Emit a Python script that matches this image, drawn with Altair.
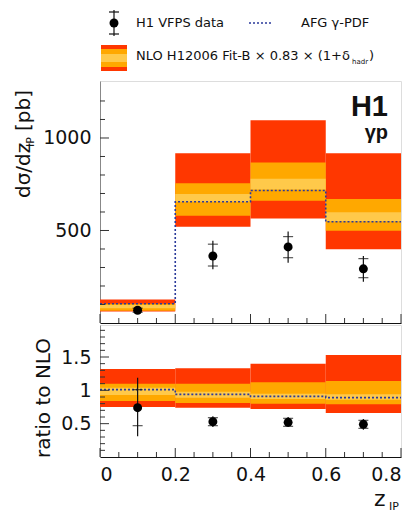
import altair as alt
import pandas as pd

# ---------------- data ----------------
bin_lo = [0.0, 0.2, 0.4, 0.6]
bin_hi = [0.2, 0.4, 0.6, 0.8]
z_center = [0.1, 0.3, 0.5, 0.7]

# upper panel: cross section [pb]
xs_data = [69, 362, 411, 293]
xs_stat_lo = [58, 308, 353, 245]
xs_stat_hi = [80, 426, 467, 348]
xs_tot_lo = [52, 290, 326, 223]
xs_tot_hi = [86, 445, 494, 362]

nlo_red_lo = [62, 520, 565, 399]
nlo_red_hi = [127, 918, 1096, 918]
nlo_orange_lo = [66, 580, 661, 498]
nlo_orange_hi = [104, 755, 868, 670]
nlo_yellow_lo = [80, 655, 721, 550]
nlo_yellow_hi = [97, 697, 779, 598]
afg_xs = [104, 655, 716, 547]

# lower panel: ratio to NLO
ratio_data = [0.74, 0.53, 0.52, 0.49]
ratio_stat_lo = [0.47, 0.47, 0.46, 0.43]
ratio_stat_hi = [1.01, 0.59, 0.58, 0.55]
ratio_tot_lo = [0.31, 0.45, 0.45, 0.41]
ratio_tot_hi = [1.19, 0.61, 0.60, 0.57]
r_red_lo = [0.75, 0.74, 0.72, 0.66]
r_red_hi = [1.32, 1.33, 1.40, 1.53]
r_orange_lo = [0.84, 0.81, 0.80, 0.79]
r_orange_hi = [1.10, 1.10, 1.12, 1.14]
r_yellow_lo = [0.93, 0.89, 0.87, 0.86]
r_yellow_hi = [1.04, 0.98, 0.95, 0.94]
r_afg = [1.01, 0.94, 0.91, 0.89]

# ticks
x_major = [0.0, 0.2, 0.4, 0.6, 0.8]
x_minor = [0.05, 0.1, 0.15, 0.25, 0.3, 0.35, 0.45, 0.5, 0.55, 0.65, 0.7, 0.75]
up_y_major = [500, 1000]
up_y_minor = [100, 200, 300, 400, 600, 700, 800, 900, 1100, 1200]
lo_y_major = [0.5, 1.0, 1.5]
lo_y_minor = [0.1, 0.2, 0.3, 0.4, 0.6, 0.7, 0.8, 0.9, 1.1, 1.2, 1.3, 1.4, 1.6, 1.7, 1.8, 1.9]

# ---------------- style ----------------
RED = "#ff3700"
ORANGE = "#ffa800"
YELLOW = "#ffc94a"
AFG = "#2b3a9a"
FONT = "DejaVu Sans"
W = 301
HU = 242
HL = 132

XS = alt.Scale(domain=[0, 0.8], nice=False, zero=False)
YU = alt.Scale(domain=[0, 1308], nice=False, zero=False)
YL = alt.Scale(domain=[0, 1.98], nice=False, zero=False)

ax_x_up = alt.Axis(labels=False, ticks=False, grid=False, title=None, domainColor="#111", domainWidth=1.2)
ax_y_up = alt.Axis(values=up_y_major, ticks=False, grid=False, title=None, labelFont=FONT,
                   labelFontSize=19, labelColor="#111", labelPadding=9, domainColor="#888",
                   labelExpr="format(datum.value, 'd')")
ax_x_lo = alt.Axis(values=x_major, ticks=False, grid=False, title=None, labelFont=FONT,
                   labelFontSize=19, labelColor="#111", labelPadding=8, domainColor="#111",
                   domainWidth=1.2, labelExpr="format(datum.value, '~g')")
ax_y_lo = alt.Axis(values=lo_y_major, ticks=False, grid=False, title=None, labelFont=FONT,
                   labelFontSize=19, labelColor="#111", labelPadding=9, domainColor="#888",
                   labelExpr="format(datum.value, '~g')")

bins = pd.DataFrame({
    "lo": bin_lo, "hi": bin_hi, "zc": z_center,
    "red_lo": nlo_red_lo, "red_hi": nlo_red_hi,
    "or_lo": nlo_orange_lo, "or_hi": nlo_orange_hi,
    "ye_lo": nlo_yellow_lo, "ye_hi": nlo_yellow_hi,
    "d": xs_data, "s_lo": xs_stat_lo, "s_hi": xs_stat_hi,
    "t_lo": xs_tot_lo, "t_hi": xs_tot_hi,
})
rbins = pd.DataFrame({
    "lo": bin_lo, "hi": bin_hi, "zc": z_center,
    "red_lo": r_red_lo, "red_hi": r_red_hi,
    "or_lo": r_orange_lo, "or_hi": r_orange_hi,
    "ye_lo": r_yellow_lo, "ye_hi": r_yellow_hi,
    "d": ratio_data, "s_lo": ratio_stat_lo, "s_hi": ratio_stat_hi,
    "t_lo": ratio_tot_lo, "t_hi": ratio_tot_hi,
})
afg_up = pd.DataFrame({"x": bin_lo + [bin_hi[-1]], "y": afg_xs + [afg_xs[-1]]})
afg_lo = pd.DataFrame({"x": bin_lo + [bin_hi[-1]], "y": r_afg + [r_afg[-1]]})
one = pd.DataFrame({"a": [0]})


def panel(df, afg_df, ys, ax_x, ax_y, y_major, y_minor, h):
    X = lambda f: alt.X(f, type="quantitative", scale=XS, axis=ax_x)
    Y = lambda f: alt.Y(f, type="quantitative", scale=ys, axis=ax_y)
    base = alt.Chart(df)
    layers = []
    for lo, hi, col in [("red_lo", "red_hi", RED), ("or_lo", "or_hi", ORANGE), ("ye_lo", "ye_hi", YELLOW)]:
        layers.append(base.mark_rect(color=col).encode(x=X("lo"), x2="hi", y=Y(lo), y2=hi))
    layers.append(alt.Chart(afg_df).mark_line(interpolate="step-after", color=AFG, strokeDash=[2, 2],
                                              strokeWidth=1.6).encode(x=X("x"), y=Y("y")))
    layers.append(base.mark_rule(color="#111", strokeWidth=1.2).encode(x=X("zc"), y=Y("t_lo"), y2="t_hi"))
    layers.append(base.mark_tick(orient="horizontal", size=10, thickness=1.2, color="#111")
                  .encode(x=X("zc"), y=Y("s_lo")))
    layers.append(base.mark_tick(orient="horizontal", size=10, thickness=1.2, color="#111")
                  .encode(x=X("zc"), y=Y("s_hi")))
    layers.append(base.mark_point(filled=True, size=80, color="#000", opacity=1).encode(x=X("zc"), y=Y("d")))
    # inward ticks
    layers.append(alt.Chart(pd.DataFrame({"v": x_major})).mark_rule(color="#333")
                  .encode(x=X("v"), y=alt.value(h), y2=alt.value(h - 9)))
    layers.append(alt.Chart(pd.DataFrame({"v": x_minor})).mark_rule(color="#333")
                  .encode(x=X("v"), y=alt.value(h), y2=alt.value(h - 5)))
    layers.append(alt.Chart(pd.DataFrame({"v": y_major})).mark_rule(color="#333")
                  .encode(y=Y("v"), x=alt.value(0), x2=alt.value(9)))
    layers.append(alt.Chart(pd.DataFrame({"v": y_minor})).mark_rule(color="#333")
                  .encode(y=Y("v"), x=alt.value(0), x2=alt.value(5)))
    return layers


def txt(s, x, y, size=13, align="left", baseline="middle", angle=0, weight="normal", font=FONT, color="#111"):
    kw = dict(align=align, baseline=baseline, fontSize=size, font=font, fontWeight=weight, color=color)
    if angle:
        kw["angle"] = angle
    return alt.Chart(one).mark_text(**kw).encode(x=alt.value(x), y=alt.value(y), text=alt.value(s))


up_layers = panel(bins, afg_up, YU, ax_x_up, ax_y_up, up_y_major, up_y_minor, HU)

# H1 label
up_layers.append(txt("H1", 288, 35, size=29, align="right", baseline="alphabetic", weight="bold", font="Liberation Sans"))
up_layers.append(txt("γp", 288, 58, size=20, align="right", baseline="alphabetic", weight="bold", font="Liberation Sans"))

# y title (upper): d sigma / d z_IP [pb]
up_layers.append(txt("dσ/dz", -76, 117, size=20, angle=270))
up_layers.append(txt("IP", -69, 66, size=11, angle=270))
up_layers.append(txt("[pb]", -76, 50, size=20, angle=270))

# legend
up_layers.append(alt.Chart(one).mark_rule(color="#111", strokeWidth=1.2)
                 .encode(x=alt.value(14), y=alt.value(-71), y2=alt.value(-45)))
for yy in [-69, -47]:
    up_layers.append(alt.Chart(one).mark_rule(color="#111", strokeWidth=1.2)
                     .encode(x=alt.value(9), x2=alt.value(19), y=alt.value(yy)))
up_layers.append(alt.Chart(one).mark_point(filled=True, size=80, color="#000", opacity=1)
                 .encode(x=alt.value(14), y=alt.value(-58)))
up_layers.append(txt("H1 VFPS data", 36, -58, size=13))
up_layers.append(alt.Chart(one).mark_rule(color=AFG, strokeDash=[2, 2], strokeWidth=1.6)
                 .encode(x=alt.value(149), x2=alt.value(173), y=alt.value(-58)))
up_layers.append(txt("AFG γ-PDF", 201, -58, size=13))
for (y1, y2, col) in [(-36, -10, RED), (-32, -14, ORANGE), (-27, -19, YELLOW)]:
    up_layers.append(alt.Chart(one).mark_rect(color=col)
                     .encode(x=alt.value(1), x2=alt.value(27), y=alt.value(y1), y2=alt.value(y2)))
up_layers.append(txt("NLO H12006 Fit-B × 0.83 × (1+δ", 36, -25, size=13))
up_layers.append(txt("hadr", 252, -19, size=7))
up_layers.append(txt(")", 269, -25, size=13))

upper = alt.layer(*up_layers).properties(width=W, height=HU)

lo_layers = panel(rbins, afg_lo, YL, ax_x_lo, ax_y_lo, lo_y_major, lo_y_minor, HL)
lo_layers.append(txt("ratio to NLO", -56, 73, size=20, align="center", angle=270))
lo_layers.append(txt("z", 274, 181, size=22, baseline="alphabetic"))
lo_layers.append(txt("IP", 289, 185, size=11, baseline="alphabetic"))
lower = alt.layer(*lo_layers).properties(width=W, height=HL)

chart = alt.vconcat(upper, lower, spacing=0).properties(
    padding={"left": 5, "top": 0, "right": 0, "bottom": 0}
).configure_view(stroke="#aaa", strokeWidth=1).configure(background="white")

chart.save("out.html", embed_options={"renderer": "svg", "actions": False})
